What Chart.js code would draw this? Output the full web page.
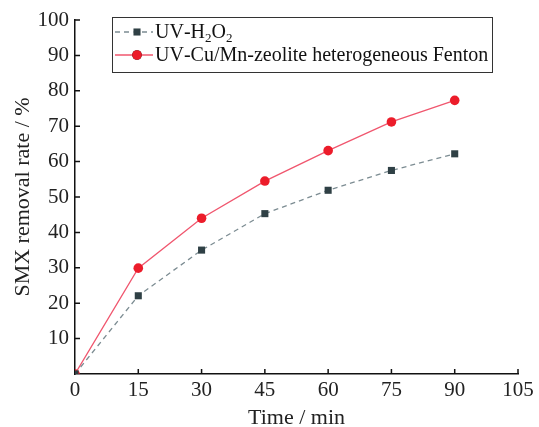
<!DOCTYPE html>
<html>
<head>
<meta charset="utf-8">
<script src="https://cdn.jsdelivr.net/npm/chart.js@4/dist/chart.umd.min.js"></script>
<style>
    body { margin: 0; background: #fff; }
    canvas { display: block; }
</style>
</head>
<body>
<canvas id="smxChart" width="539" height="427"></canvas>
<script>
// reaction time (min)
const timePoints = [0, 15, 30, 45, 60, 75, 90];
// SMX removal (%) for each process
const uvH2O2 = [0, 22.1, 35.0, 45.3, 51.9, 57.5, 62.2];
const uvFenton = [0, 29.9, 44.0, 54.5, 63.1, 71.2, 77.3];

const xTickValues = [0, 15, 30, 45, 60, 75, 90, 105];
const yTickValues = [0, 10, 20, 30, 40, 50, 60, 70, 80, 90, 100];

const seriesNames = ['UV-H₂O₂', 'UV-Cu/Mn-zeolite heterogeneous Fenton'];

const serif = "'Liberation Serif', 'Times New Roman', serif";

function toPoints(values) {
    return timePoints.map((t, i) => ({ x: t, y: values[i] }));
}

// ticks pointing into the plot area
const innerTicks = {
    id: 'innerTicks',
    afterDatasetsDraw(chart) {
        const { ctx, chartArea, scales } = chart;
        ctx.save();
        ctx.strokeStyle = '#111';
        ctx.lineWidth = 1.5;
        ctx.beginPath();
        scales.x.ticks.forEach(t => {
            if (t.value === 0) return;
            const px = scales.x.getPixelForValue(t.value);
            ctx.moveTo(px, chartArea.bottom);
            ctx.lineTo(px, chartArea.bottom - 5);
        });
        scales.y.ticks.forEach(t => {
            if (t.value === 0) return;
            const py = scales.y.getPixelForValue(t.value);
            ctx.moveTo(chartArea.left, py);
            ctx.lineTo(chartArea.left + 5, py);
        });
        ctx.stroke();
        ctx.restore();
    }
};

// draws a label, lowering subscript digits
function drawRichText(ctx, text, x, y, size) {
    const subs = '₀₁₂₃₄₅₆₇₈₉';
    for (const ch of text) {
        const k = subs.indexOf(ch);
        if (k >= 0) {
            ctx.font = `${Math.round(size * 0.65)}px ${serif}`;
            ctx.fillText(String(k), x, y + size * 0.28);
            x += ctx.measureText(String(k)).width;
        } else {
            ctx.font = `${size}px ${serif}`;
            ctx.fillText(ch, x, y);
            x += ctx.measureText(ch).width;
        }
    }
}

// boxed legend in the top-left corner of the plot
const boxLegend = {
    id: 'boxLegend',
    afterDraw(chart) {
        const { ctx, chartArea } = chart;
        const left = chartArea.left + 37;
        const top = chartArea.top - 3;
        const w = 380, h = 55;
        ctx.save();
        ctx.fillStyle = '#fff';
        ctx.fillRect(left, top, w, h);
        ctx.strokeStyle = '#333';
        ctx.lineWidth = 1;
        ctx.strokeRect(left + 0.5, top + 0.5, w, h);

        chart.data.datasets.forEach((ds, i) => {
            const cy = top + 15 + i * 23;
            ctx.strokeStyle = ds.borderColor;
            ctx.lineWidth = ds.borderWidth;
            ctx.setLineDash(ds.borderDash || []);
            ctx.beginPath();
            ctx.moveTo(left + 3, cy);
            ctx.lineTo(left + 41, cy);
            ctx.stroke();
            ctx.setLineDash([]);
            Chart.helpers.drawPoint(ctx, {
                pointStyle: ds.pointStyle,
                radius: ds.pointRadius,
                borderWidth: 0
            }, left + 25, cy);
            ctx.fillStyle = ds.pointBackgroundColor;
            ctx.fill();
            ctx.fillStyle = '#111';
            ctx.textBaseline = 'middle';
            drawRichText(ctx, ds.label, left + 43, cy + 1, 20);
        });
        ctx.restore();
    }
};

new Chart(document.getElementById('smxChart'), {
    type: 'line',
    data: {
        datasets: [{
            label: seriesNames[0],
            data: toPoints(uvH2O2),
            borderColor: '#7c8c92',
            borderWidth: 1.3,
            borderDash: [5, 4],
            pointStyle: 'rect',
            pointRadius: 5,
            pointBorderWidth: 0,
            pointBackgroundColor: '#2f4045'
        }, {
            label: seriesNames[1],
            data: toPoints(uvFenton),
            borderColor: '#f0566e',
            borderWidth: 1.3,
            pointStyle: 'circle',
            pointRadius: 4.8,
            pointBorderWidth: 0,
            pointBackgroundColor: '#ec1c2a'
        }]
    },
    options: {
        responsive: false,
        animation: false,
        layout: { padding: { top: 20, right: 21, left: 0, bottom: 0 } },
        plugins: {
            legend: { display: false },
            tooltip: { enabled: false }
        },
        scales: {
            x: {
                type: 'linear',
                min: 0,
                max: 105,
                afterBuildTicks: s => { s.ticks = xTickValues.map(v => ({ value: v })); },
                afterFit: s => { s.height = 53; },
                grid: { display: false, drawTicks: false },
                border: { display: true, color: '#111', width: 1.5 },
                ticks: {
                    color: '#222',
                    padding: 4,
                    maxRotation: 0,
                    font: { family: serif, size: 21 }
                },
                title: {
                    display: true,
                    text: 'Time / min',
                    color: '#222',
                    padding: { top: 0, bottom: -4 },
                    font: { family: serif, size: 22 }
                }
            },
            y: {
                min: 0,
                max: 100,
                afterBuildTicks: s => { s.ticks = yTickValues.map(v => ({ value: v })); },
                afterFit: s => { s.width = 75; },
                grid: { display: false, drawTicks: false },
                border: { display: true, color: '#111', width: 1.5 },
                ticks: {
                    color: '#222',
                    padding: 6,
                    callback: v => (v === 0 ? '' : v),
                    font: { family: serif, size: 21 }
                },
                title: {
                    display: true,
                    text: 'SMX removal rate / %',
                    color: '#222',
                    padding: { top: 10, bottom: 0 },
                    font: { family: serif, size: 22 }
                }
            }
        }
    },
    plugins: [innerTicks, boxLegend]
});
</script>
</body>
</html>
